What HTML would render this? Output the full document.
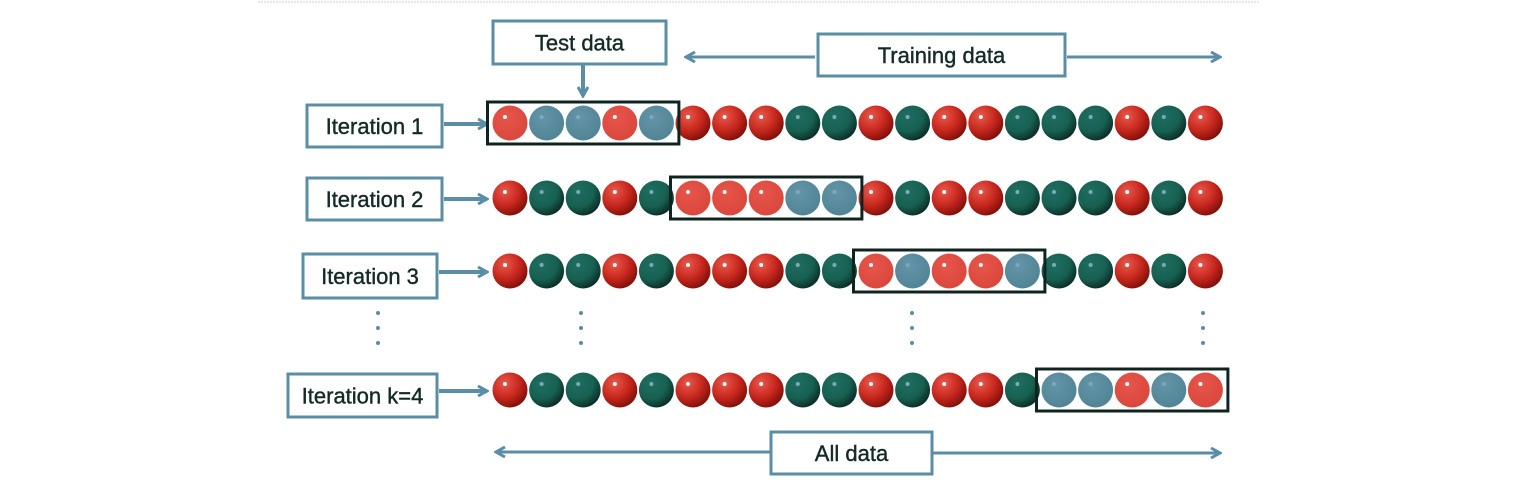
<!DOCTYPE html>
<html><head><meta charset="utf-8"><style>
html,body{margin:0;padding:0;background:#fff;}
svg{display:block;font-family:"Liberation Sans","DejaVu Sans",sans-serif;}
</style></head><body>
<svg id="chart" width="1517" height="494" viewBox="0 0 1517 494">
<defs>
<radialGradient id="gR" cx="0.35" cy="0.3" r="0.75"><stop offset="0" stop-color="#e8584c"/><stop offset="0.55" stop-color="#c8281e"/><stop offset="1" stop-color="#7e0e08"/></radialGradient>
<radialGradient id="gG" cx="0.35" cy="0.3" r="0.75"><stop offset="0" stop-color="#1f6e60"/><stop offset="0.6" stop-color="#176052"/><stop offset="1" stop-color="#0b2a24"/></radialGradient>
<radialGradient id="gTR" cx="0.4" cy="0.35" r="0.7"><stop offset="0" stop-color="#e8554a"/><stop offset="1" stop-color="#d8463c"/></radialGradient>
<radialGradient id="gTB" cx="0.4" cy="0.35" r="0.7"><stop offset="0" stop-color="#6494a8"/><stop offset="1" stop-color="#4f8494"/></radialGradient>
<marker id="ah" viewBox="0 0 12 12" refX="10" refY="6" markerWidth="12" markerHeight="12" markerUnits="userSpaceOnUse" orient="auto-start-reverse"><path d="M1,1 L10,6 L1,11" fill="none" stroke="#5a8ea6" stroke-width="3"/></marker>
</defs>
<line x1="258" y1="2" x2="1260" y2="2" stroke="#ccc" stroke-width="1" stroke-dasharray="2,1"/>
<g id="layer"></g>
</svg>
<script>
const baseColors = ['R','G','G','R','G','R','R','R','G','G','R','G','R','R','G','G','G','R','G','R'];
const testStarts = [0, 5, 10, 15];
const testLabels = ['Iteration 1','Iteration 2','Iteration 3','Iteration k=4'];
const rowY = [123, 198, 271, 390];
const NS='http://www.w3.org/2000/svg';
const layer=document.getElementById('layer');
function mk(t,a,p){const e=document.createElementNS(NS,t);for(const k in a)e.setAttribute(k,a[k]);(p||layer).appendChild(e);return e;}
const x0=510, dx=36.6, r=17.5;
const xAt=i=>x0+i*dx;
const labelBoxes=[[307,105,135,42],[307,178,135,42],[303,254,134,44],[288,374,149,43]];
function box(x,y,w,h,txt,name){
  const g=mk('g',{});
  
  
  mk('rect',{x:x,y:y,width:w,height:h,fill:'#fff',stroke:'#5a8ea6','stroke-width':3},g);
  const t=mk('text',{x:x+w/2,y:y+h/2+8,'text-anchor':'middle','font-size':22,fill:'#142a26','stroke':'#142a26','stroke-width':0.4},g);
  t.textContent=txt;
}
rowY.forEach((y,ri)=>{
  const lb=labelBoxes[ri];
  box(lb[0],lb[1],lb[2],lb[3],testLabels[ri],'iteration-label-'+(ri+1));
  const ar=mk('line',{x1:lb[0]+lb[2]+2,y1:y+1,x2:487,y2:y+1,stroke:'#5a8ea6','stroke-width':4,'marker-end':'url(#ah)'});
  
  
  const s=testStarts[ri];
  baseColors.forEach((c,i)=>{
    const test=i>=s&&i<s+5;
    const fill=test?(c==='R'?'url(#gTR)':'url(#gTB)'):(c==='R'?'url(#gR)':'url(#gG)');
    const b=mk('circle',{cx:xAt(i),cy:y,r:r,fill:fill});
    
    
    mk('circle',{cx:xAt(i)-5,cy:y-6,r:2,fill:c==='R'?'#fff':'#7aaabb'});
  });
  const bx=mk('rect',{x:xAt(s)-r-5,y:y-21,width:4*dx+2*r+10,height:42,fill:'none',stroke:'#10241f','stroke-width':3});
  
  
});
[378,581,912,1203].forEach((x,k)=>{[313,328,343].forEach(y=>{
  const d=mk('circle',{cx:x,cy:y,r:2,fill:'#5a8ea6'});
  
  
});});
box(493,21,173,43,'Test data','test-data-label');
const ta=mk('line',{x1:583,y1:65,x2:583,y2:96,stroke:'#5a8ea6','stroke-width':4,'marker-end':'url(#ah)'});


const tr1=mk('line',{x1:815,y1:57,x2:686,y2:57,stroke:'#5a8ea6','stroke-width':3,'marker-end':'url(#ah)'});


const tr2=mk('line',{x1:1067,y1:57,x2:1220,y2:57,stroke:'#5a8ea6','stroke-width':3,'marker-end':'url(#ah)'});


box(818,34,247,42,'Training data','training-data-label');
const a1=mk('line',{x1:770,y1:452,x2:496,y2:452,stroke:'#5a8ea6','stroke-width':3,'marker-end':'url(#ah)'});


const a2=mk('line',{x1:932,y1:453,x2:1220,y2:453,stroke:'#5a8ea6','stroke-width':3,'marker-end':'url(#ah)'});


box(771,432,161,42,'All data','all-data-label');
</script>
</body></html>
